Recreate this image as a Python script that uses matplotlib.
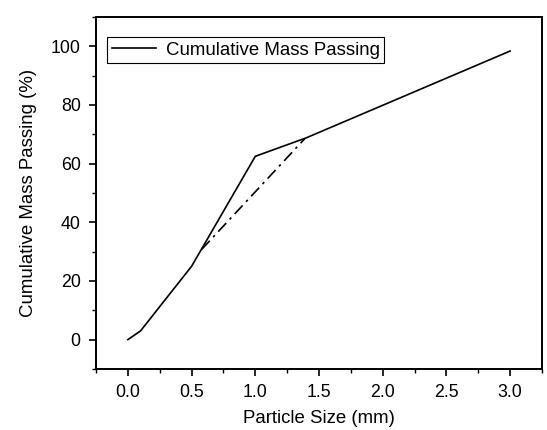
import matplotlib.pyplot as plt
from matplotlib.ticker import MultipleLocator

plt.rcParams['font.family'] = ['Liberation Sans', 'DejaVu Sans']

# sieve curve
size_mm = [0.0, 0.1, 0.5, 1.0, 1.4, 3.0]
passing = [0.0, 3.0, 25.0, 62.5, 68.8, 98.4]

# dash-dot guide line
guide_x = [0.58, 1.39]
guide_y = [30.8, 68.6]

fig = plt.figure(figsize=(5.47, 4.30), dpi=100)
ax = fig.add_axes([0.1755, 0.1419, 0.8154, 0.8186])

ax.plot(size_mm, passing, color='black', lw=1.2, label='Cumulative Mass Passing')
ax.plot(guide_x, guide_y, color='black', lw=1.2, linestyle=(0, (7, 3, 1.5, 3)))

ax.set_xlim(-0.25, 3.25)
ax.set_ylim(-10, 110)
ax.xaxis.set_major_locator(MultipleLocator(0.5))
ax.xaxis.set_minor_locator(MultipleLocator(0.25))
ax.yaxis.set_major_locator(MultipleLocator(20))
ax.yaxis.set_minor_locator(MultipleLocator(10))
ax.xaxis.set_major_formatter(plt.FormatStrFormatter('%.1f'))

ax.tick_params(which='major', direction='out', length=5, width=1.2, labelsize=12.8, pad=6)
ax.tick_params(which='minor', direction='out', length=3, width=1.0)
for s in ax.spines.values():
    s.set_linewidth(1.4)

ax.set_xlabel('Particle Size (mm)', fontsize=13.4, labelpad=6)
ax.set_ylabel('Cumulative Mass Passing (%)', fontsize=13.4, labelpad=10)

leg = ax.legend(loc='upper left', bbox_to_anchor=(0.025, 0.943), borderaxespad=0,
                fontsize=13.4, handlelength=2.4, fancybox=False, framealpha=1,
                edgecolor='black', borderpad=0.25, handletextpad=0.5)
leg.get_frame().set_linewidth(0.8)

fig.savefig('out.png', dpi=100)
